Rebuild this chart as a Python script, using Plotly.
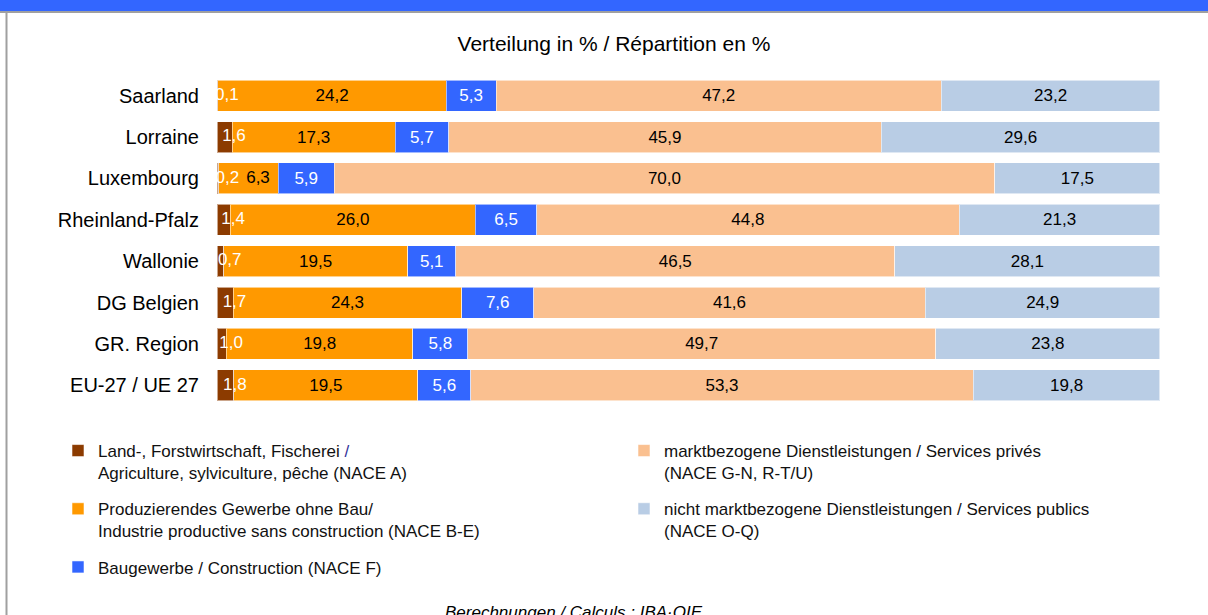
import plotly.graph_objects as go

regions = ["Saarland", "Lorraine", "Luxembourg", "Rheinland-Pfalz", "Wallonie",
           "DG Belgien", "GR. Region", "EU-27 / UE 27"]

agri = [0.1, 1.6, 0.2, 1.4, 0.7, 1.7, 1.0, 1.8]
industry = [24.2, 17.3, 6.3, 26.0, 19.5, 24.3, 19.8, 19.5]
construction = [5.3, 5.7, 5.9, 6.5, 5.1, 7.6, 5.8, 5.6]
private_services = [47.2, 45.9, 70.0, 44.8, 46.5, 41.6, 49.7, 53.3]
public_services = [23.2, 29.6, 17.5, 21.3, 28.1, 24.9, 23.8, 19.8]

series_names = [
    "Land-, Forstwirtschaft, Fischerei <span style='color:#333399'>/</span><br>Agriculture, sylviculture, pêche (NACE A)",
    "Produzierendes Gewerbe ohne Bau/<br>Industrie productive sans construction (NACE B-E)",
    "Baugewerbe / Construction (NACE F)",
    "marktbezogene Dienstleistungen / Services privés<br>(NACE G-N, R-T/U)",
    "nicht marktbezogene Dienstleistungen / Services publics<br>(NACE O-Q)",
]
colors = ["#8C3B00", "#FF9900", "#3366FF", "#FAC090", "#B9CDE5"]
text_colors = ["white", "black", "white", "black", "black"]
legends = ["legend", "legend", "legend", "legend2", "legend2"]

FONT = "Liberation Sans, Arial, sans-serif"

def fmt(v):
    return f"{v:.1f}".replace(".", ",")

W, H = 1208, 615
L, R, T, B = 217, W - 1160, 75, H - 406

def px_x(px):
    return (px - L) / (W - L - R)

def px_y(py):
    return (H - B - py) / (H - T - B)

SMALL = 10  # industry segments narrower than this get their label in the overlay

def seg_text(i, vals):
    if i == 0:
        return None
    if i == 1:
        return [fmt(v) if v >= SMALL else "" for v in vals]
    return [fmt(v) for v in vals]

fig = go.Figure()
all_series = [agri, industry, construction, private_services, public_services]
for i, vals in enumerate(all_series):
    fig.add_trace(go.Bar(
        y=regions, x=vals, orientation="h", name=series_names[i],
        marker=dict(color=colors[i], line=dict(color="rgba(255,255,255,0.55)", width=1)),
        text=seg_text(i, vals),
        textposition="inside", insidetextanchor="middle", textangle=0,
        constraintext="none",
        textfont=dict(color=text_colors[i], size=17, family=FONT),
        legend=legends[i], legendgroup=f"g{i}", hoverinfo="skip",
    ))

# overlay labels: agriculture (overflowing thin segments) and narrow industry segments
ov_y, ov_x, ov_t, ov_c = [], [], [], []
for r, a, ind in zip(regions, agri, industry):
    ov_y.append(r); ov_x.append(a / 2 + 1.0); ov_t.append(fmt(a)); ov_c.append("white")
    if ind < SMALL:
        ov_y.append(r); ov_x.append(a + ind / 2 + 1.0); ov_t.append(fmt(ind)); ov_c.append("black")

fig.add_trace(go.Scatter(
    y=ov_y, x=ov_x, mode="text", text=ov_t, textposition="middle center",
    textfont=dict(color=ov_c, size=17, family=FONT),
    showlegend=False, hoverinfo="skip", cliponaxis=False,
))

shapes = [
    dict(type="rect", xref="paper", yref="paper", x0=px_x(-2), x1=px_x(W + 2),
         y0=px_y(11), y1=px_y(-2), fillcolor="#3366FF", line=dict(width=0), layer="above"),
    dict(type="line", xref="paper", yref="paper", x0=px_x(0), x1=px_x(W + 2),
         y0=px_y(12), y1=px_y(12), line=dict(color="#A0A0A0", width=2)),
    dict(type="line", xref="paper", yref="paper", x0=px_x(6.5), x1=px_x(6.5),
         y0=px_y(12), y1=px_y(H + 2), line=dict(color="#A0A0A0", width=2)),
]

fig.update_layout(
    width=W, height=H, barmode="stack", barnorm="percent", bargap=0.25,
    margin=dict(l=L, r=R, t=T, b=B, autoexpand=False),
    paper_bgcolor="white", plot_bgcolor="white",
    font=dict(family=FONT, color="black"),
    title=dict(text="Verteilung in % / Répartition en %", xref="container", x=614 / W,
               xanchor="center", yref="container", y=1 - 44 / H, yanchor="middle",
               font=dict(size=21, family=FONT, color="black")),
    xaxis=dict(range=[0, 100.001], visible=False, fixedrange=True),
    yaxis=dict(autorange="reversed", showgrid=False, showline=False, ticks="",
               ticklabelstandoff=17, tickfont=dict(size=20, family=FONT, color="black")),
    legend=dict(xref="container", yref="container", x=58 / W, y=1 - 433 / H,
                xanchor="left", yanchor="top", valign="top", tracegroupgap=11,
                font=dict(size=17, family=FONT, color="#111111"), bgcolor="rgba(0,0,0,0)",
                traceorder="grouped"),
    legend2=dict(xref="container", yref="container", x=624 / W, y=1 - 433 / H,
                 xanchor="left", yanchor="top", valign="top", tracegroupgap=11,
                 font=dict(size=17, family=FONT, color="#111111"), bgcolor="rgba(0,0,0,0)",
                 traceorder="grouped"),
    shapes=shapes,
    annotations=[dict(text="<i>Berechnungen / Calculs : IBA·OIE</i>", xref="paper", yref="paper",
                      x=px_x(574), y=px_y(601), xanchor="center", yanchor="top",
                      showarrow=False, font=dict(size=17, family=FONT, color="black"))],
)

fig.write_html("out.html", config={"displayModeBar": False},
               post_script="document.body.style.margin='0';document.body.style.overflow='hidden';")
